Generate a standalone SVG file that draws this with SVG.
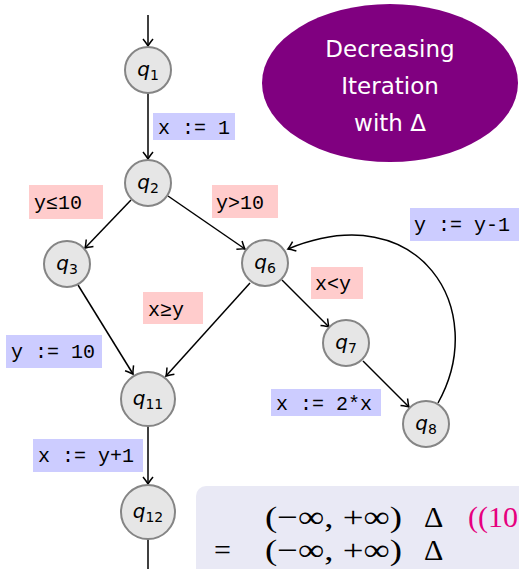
<svg xmlns="http://www.w3.org/2000/svg" width="519" height="569" viewBox="0 0 519 569">
<style>
.n circle{fill:#e6e6e6;stroke:#858585;stroke-width:2}
.n text{font-family:"DejaVu Sans",sans-serif;font-style:italic;font-size:20px;fill:#000;text-anchor:middle}
.n tspan.s{font-style:normal;font-size:14px}
.e path{fill:none;stroke:#000;stroke-width:1.5}
.bl{fill:#ccccff}
.rd{fill:#ffcccc}
.lt{font-family:"Liberation Mono",monospace;font-size:20px;fill:#000}
.m{font-family:"Liberation Serif",serif;font-size:30px;fill:#000}
.m.pk{fill:#e6007e}
</style>
<defs>
<marker id="ar" viewBox="-10 -6 12 12" refX="0" refY="0" markerWidth="12" markerHeight="12" markerUnits="userSpaceOnUse" orient="auto">
<path d="M-7,-5 Q-2,-1 0,0 Q-2,1 -7,5" fill="none" stroke="#000" stroke-width="1.5"/>
</marker>
</defs>
<g id="goal">
<ellipse cx="390" cy="83" rx="128" ry="79" fill="#800080"/>
<text font-family="'DejaVu Sans',sans-serif" font-size="23" fill="#fff" text-anchor="middle"><tspan x="390" y="57">Decreasing</tspan><tspan x="390" y="94">Iteration</tspan><tspan x="390" y="131">with Δ</tspan></text>
</g>
<g id="edges" class="e">
<path d="M148,15 L148,46" marker-end="url(#ar)"/>
<path d="M148,93 L148,159" marker-end="url(#ar)"/>
<path d="M131,200 L85,248" marker-end="url(#ar)"/>
<path d="M168,196 L245,249" marker-end="url(#ar)"/>
<path d="M78,285 L133,374" marker-end="url(#ar)"/>
<path d="M250,283 L166,376" marker-end="url(#ar)"/>
<path d="M282,280 L329,327" marker-end="url(#ar)"/>
<path d="M363,361 L409,407" marker-end="url(#ar)"/>
<path d="M438,403 C490,310 420,195 288,249" marker-end="url(#ar)"/>
<path d="M148,426 L148,484" marker-end="url(#ar)"/>
<path d="M148,539 L148,569"/>
</g>
<g id="labels">
<rect class="bl" x="153" y="113" width="82" height="27"/><text class="lt" x="158" y="134">x := 1</text>
<rect class="rd" x="29" y="185" width="74" height="34"/><text class="lt" x="34" y="209">y≤10</text>
<rect class="rd" x="212" y="185" width="66" height="33"/><text class="lt" x="216" y="209">y&gt;10</text>
<rect class="bl" x="410" y="208" width="109" height="33"/><text class="lt" x="414" y="231">y := y-1</text>
<rect class="rd" x="311" y="267" width="52" height="32"/><text class="lt" x="315" y="290">x&lt;y</text>
<rect class="rd" x="143" y="292" width="60" height="32"/><text class="lt" x="148" y="316">x≥y</text>
<rect class="bl" x="6" y="335" width="96" height="33"/><text class="lt" x="11" y="358">y := 10</text>
<rect class="bl" x="33" y="439" width="110" height="33"/><text class="lt" x="38" y="462">x := y+1</text>
<rect class="bl" x="271" y="389" width="110" height="27"/><text class="lt" x="276" y="410">x := 2*x</text>
</g>
<g id="q1" class="n"><circle cx="148" cy="70" r="23"/><text x="148" y="76">q<tspan class="s" dy="4">1</tspan></text></g>
<g id="q2" class="n"><circle cx="148" cy="183" r="23"/><text x="148" y="189">q<tspan class="s" dy="4">2</tspan></text></g>
<g id="q3" class="n"><circle cx="67" cy="264" r="23"/><text x="67" y="270">q<tspan class="s" dy="4">3</tspan></text></g>
<g id="q6" class="n"><circle cx="265" cy="263" r="23"/><text x="265" y="269">q<tspan class="s" dy="4">6</tspan></text></g>
<g id="q7" class="n"><circle cx="346" cy="343" r="23"/><text x="346" y="349">q<tspan class="s" dy="4">7</tspan></text></g>
<g id="q8" class="n"><circle cx="426" cy="424" r="23"/><text x="426" y="430">q<tspan class="s" dy="4">8</tspan></text></g>
<g id="q11" class="n"><circle cx="148" cy="399" r="27"/><text x="148" y="405">q<tspan class="s" dy="4">11</tspan></text></g>
<g id="q12" class="n"><circle cx="148" cy="512" r="27"/><text x="148" y="518">q<tspan class="s" dy="4">12</tspan></text></g>
<g id="formula">
<rect x="196" y="486" width="340" height="100" rx="10" fill="#e9e9f5"/>
<text class="m" x="265" y="527" textLength="137" lengthAdjust="spacingAndGlyphs">(−∞, +∞)</text>
<text class="m" x="424" y="527">Δ</text>
<text class="m pk" x="468" y="527">((10</text>
<text class="m" x="214" y="560">=</text>
<text class="m" x="265" y="560" textLength="137" lengthAdjust="spacingAndGlyphs">(−∞, +∞)</text>
<text class="m" x="424" y="560">Δ</text>
</g>
</svg>
